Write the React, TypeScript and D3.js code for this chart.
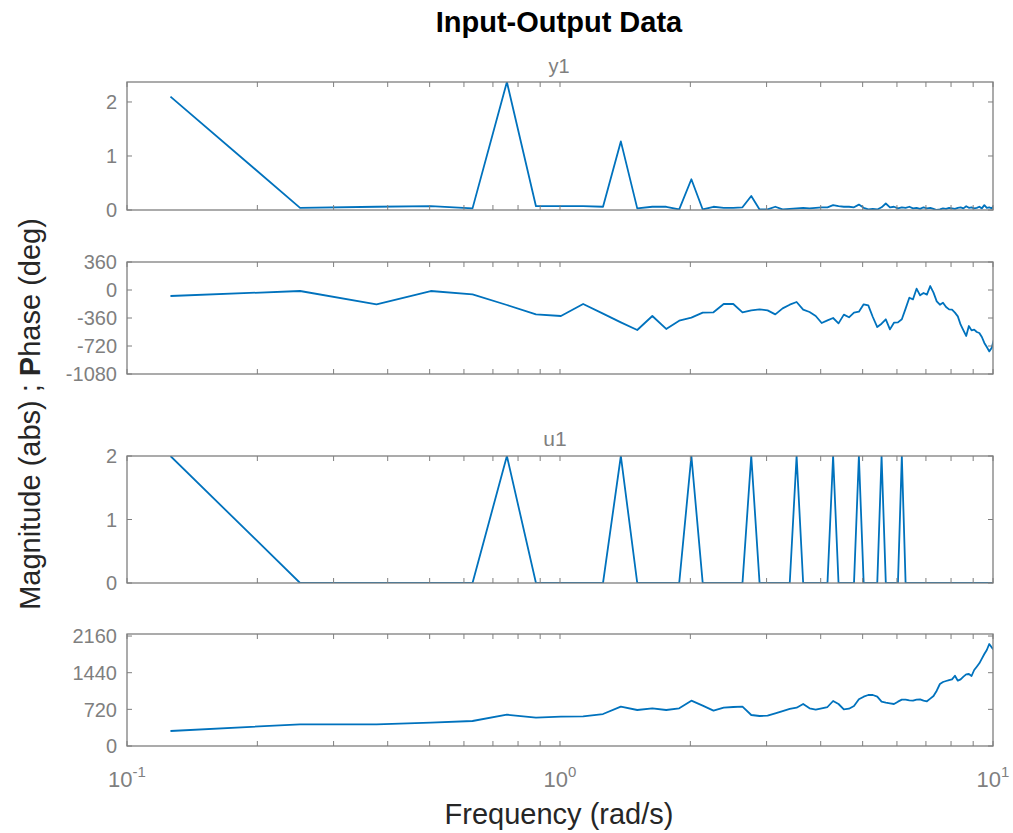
import React from "react";
import * as d3 from "d3";

// Frequency grid (rad/s)
const freqs = [
  0.126, 0.251, 0.377, 0.503, 0.628, 0.754, 0.88, 1.005, 1.131, 1.257,
  1.382, 1.508, 1.634, 1.759, 1.885, 2.011, 2.136, 2.262, 2.388, 2.513,
  2.639, 2.765, 2.89, 3.016, 3.142, 3.267, 3.393, 3.519, 3.644, 3.77,
  3.896, 4.021, 4.147, 4.273, 4.398, 4.524, 4.65, 4.775, 4.901, 5.027,
  5.152, 5.278, 5.404, 5.529, 5.655, 5.781, 5.906, 6.032, 6.158, 6.283,
  6.409, 6.535, 6.66, 6.786, 6.912, 7.037, 7.163, 7.288, 7.414, 7.54,
  7.665, 7.791, 7.917, 8.042, 8.168, 8.294, 8.419, 8.545, 8.671, 8.796,
  8.922, 9.048, 9.173, 9.299, 9.425, 9.55, 9.676, 9.802, 9.927, 10.053,
];

const y1Mag = [
  2.1, 0.04, 0.06, 0.07, 0.03, 2.37, 0.07, 0.07, 0.07, 0.06,
  1.27, 0.03, 0.06, 0.06, 0.01, 0.57, 0.01, 0.06, 0.04, 0.04,
  0.05, 0.26, 0.01, 0.01, 0.06, 0.01, 0.02, 0.03, 0.04, 0.03,
  0.04, 0.05, 0.05, 0.09, 0.07, 0.06, 0.06, 0.05, 0.1, 0.04,
  0.01, 0.02, 0.01, 0.05, 0.12, 0.05, 0.06, 0.03, 0.05, 0.04,
  0.06, 0.03, 0.04, 0.02, 0.05, 0.03, 0.04, 0.02, 0.0, 0.01,
  0.03, 0.02, 0.04, 0.03, 0.02, 0.04, 0.05, 0.03, 0.07, 0.04,
  0.05, 0.03, 0.04, 0.06, 0.03, 0.09, 0.04, 0.05, 0.03, 0.08,
];

const y1Phase = [
  -77, -13, -184, -13, -55, -193, -313, -334, -180, -304,
  -416, -514, -334, -501, -394, -356, -291, -287, -180, -180,
  -287, -262, -248, -262, -313, -236, -189, -154, -253, -283,
  -334, -424, -390, -360, -429, -317, -351, -291, -279, -184,
  -197, -347, -476, -433, -377, -506, -420, -416, -377, -240,
  -99, -120, 17, -69, -39, -60, 51, -34, -146, -189,
  -163, -219, -249, -253, -291, -339, -446, -519, -591, -463,
  -519, -510, -540, -553, -604, -681, -733, -789, -746, -634,
];

const u1Mag = [
  2, 0, 0, 0, 0, 2, 0, 0, 0, 0,
  2, 0, 0, 0, 0, 2, 0, 0, 0, 0,
  0, 2, 0, 0, 0, 0, 0, 2, 0, 0,
  0, 0, 0, 2, 0, 0, 0, 0, 2, 0,
  0, 0, 0, 2, 0, 0, 0, 0, 2, 0,
  0, 0, 0, 0, 0, 0, 0, 0, 0, 0,
  0, 0, 0, 0, 0, 0, 0, 0, 0, 0,
  0, 0, 0, 0, 0, 0, 0, 0, 0, 0,
];

const u1Phase = [
  295, 426, 426, 458, 491, 615, 556, 576, 583, 628,
  772, 707, 740, 707, 740, 890, 792, 694, 753, 766,
  772, 609, 589, 595, 642, 687, 727, 753, 825, 740,
  713, 740, 766, 884, 825, 720, 733, 786, 917, 969,
  1002, 1002, 969, 871, 851, 838, 825, 871, 910, 910,
  897, 891, 910, 917, 891, 878, 930, 982, 1087, 1218,
  1257, 1277, 1296, 1309, 1381, 1283, 1309, 1362, 1407, 1414,
  1375, 1493, 1558, 1624, 1715, 1807, 1886, 2004, 1938, 1886,
];

const magTicks = [0, 1, 2];
const y1PhaseTicks = [-1080, -720, -360, 0, 360];
const u1PhaseTicks = [0, 720, 1440, 2160];
const xMajorTicks = [0.1, 1, 10];
const xTickExponents = ["-1", "0", "1"];
const xMinorTicks = [0.2, 0.3, 0.4, 0.5, 0.6, 0.7, 0.8, 0.9, 2, 3, 4, 5, 6, 7, 8, 9];

const titleText = "Input-Output Data";
const outputName = "y1";
const inputName = "u1";
const xLabelText = "Frequency  (rad/s)";

const W = 1013;
const H = 833;
const LEFT = 127;
const RIGHT = 993;
const LINE = "#0072BD";
const AXC = "#7f7f7f";
const FONT = "'Liberation Sans', Arial, Helvetica, sans-serif";

type Panel = {
  id: string;
  top: number;
  bottom: number;
  domain: [number, number];
  ticks: number[];
  values: number[];
};

const panels: Panel[] = [
  { id: "p1", top: 82, bottom: 210, domain: [0, 2.37], ticks: magTicks, values: y1Mag },
  { id: "p2", top: 262, bottom: 374, domain: [-1080, 360], ticks: y1PhaseTicks, values: y1Phase },
  { id: "p3", top: 456, bottom: 583, domain: [0, 2], ticks: magTicks, values: u1Mag },
  { id: "p4", top: 634, bottom: 746, domain: [0, 2200], ticks: u1PhaseTicks, values: u1Phase },
];

export default function App() {
  const x = d3.scaleLog().domain([0.1, 10]).range([LEFT, RIGHT]);
  const TL = 5;

  return (
    <svg width={W} height={H} style={{ display: "block", position: "absolute", left: 0, top: 0 }} fontFamily={FONT}>
      <rect x={0} y={0} width={W} height={H} fill="#fff" />
      <defs>
        {panels.map((p) => (
          <clipPath id={`clip-${p.id}`} key={p.id}>
            <rect x={LEFT} y={p.top} width={RIGHT - LEFT} height={p.bottom - p.top} />
          </clipPath>
        ))}
      </defs>
      {panels.map((p) => {
        const y = d3.scaleLinear().domain(p.domain).range([p.bottom, p.top]);
        const line = d3
          .line<number>()
          .x((_, i) => x(freqs[i]))
          .y((d) => y(d));
        const allX = [...xMajorTicks, ...xMinorTicks];
        return (
          <g key={p.id}>
            <path d={line(p.values) || ""} fill="none" stroke={LINE} strokeWidth={1.8} clipPath={`url(#clip-${p.id})`} strokeLinejoin="round" />
            <rect x={LEFT} y={p.top} width={RIGHT - LEFT} height={p.bottom - p.top} fill="none" stroke={AXC} strokeWidth={1.3} />
            {allX.map((t) => (
              <g key={`xt${t}`}>
                <line x1={x(t)} x2={x(t)} y1={p.bottom} y2={p.bottom - TL} stroke={AXC} strokeWidth={1} />
                <line x1={x(t)} x2={x(t)} y1={p.top} y2={p.top + TL} stroke={AXC} strokeWidth={1} />
              </g>
            ))}
            {p.ticks.map((t) => (
              <g key={`yt${t}`}>
                <line x1={LEFT} x2={LEFT + TL} y1={y(t)} y2={y(t)} stroke={AXC} strokeWidth={1} />
                <line x1={RIGHT} x2={RIGHT - TL} y1={y(t)} y2={y(t)} stroke={AXC} strokeWidth={1} />
                <text x={LEFT - 10} y={y(t)} dy="0.36em" textAnchor="end" fontSize={20} fill={AXC}>
                  {t}
                </text>
              </g>
            ))}
          </g>
        );
      })}
      {xMajorTicks.map((t, i) => (
        <text key={`xl${t}`} x={x(t)} y={787} textAnchor="middle" fontSize={22} fill={AXC}>
          10
          <tspan dy={-10} fontSize={15}>
            {xTickExponents[i]}
          </tspan>
        </text>
      ))}
      <text x={559} y={32} textAnchor="middle" fontSize={29} fontWeight="bold" fill="#000">
        {titleText}
      </text>
      <text x={559} y={73} textAnchor="middle" fontSize={20} fill={AXC}>
        {outputName}
      </text>
      <text x={555} y={446} textAnchor="middle" fontSize={21} fill={AXC}>
        {inputName}
      </text>
      <text x={559} y={824} textAnchor="middle" fontSize={29} fill="#262626">
        {xLabelText}
      </text>
      <text transform="translate(40,414) rotate(-90)" textAnchor="middle" fontSize={29} fill="#262626">
        Magnitude (abs) ; <tspan fontWeight="bold">P</tspan>hase (deg)
      </text>
    </svg>
  );
}
